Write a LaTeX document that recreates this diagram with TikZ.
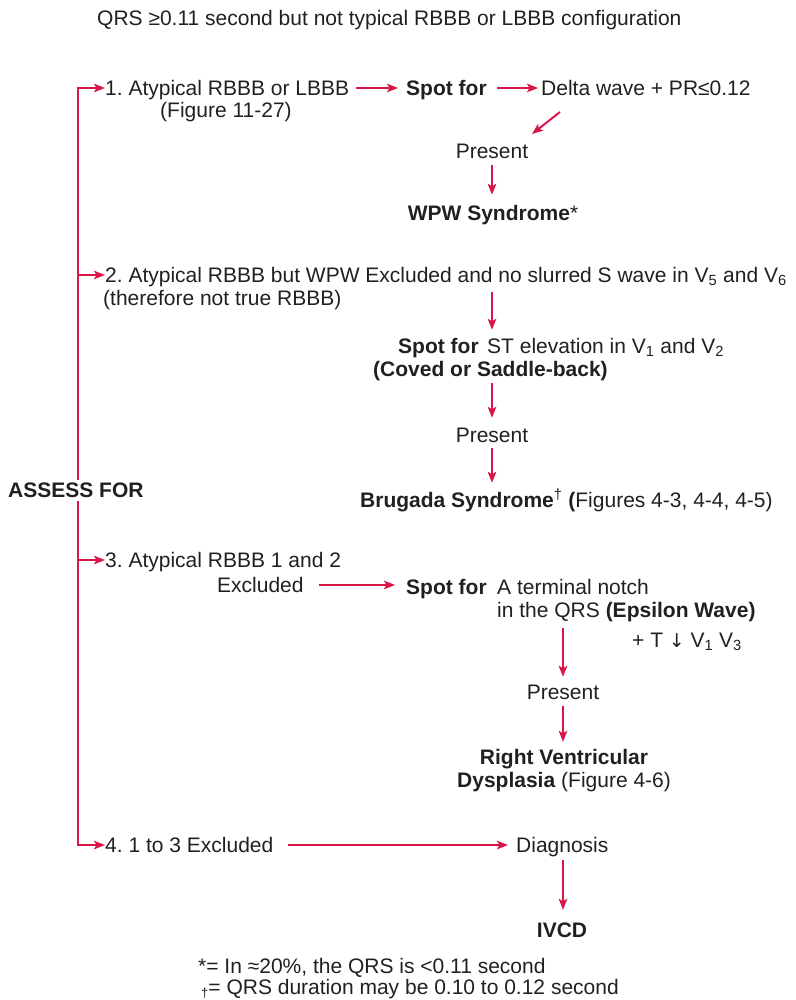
\documentclass[tikz,border=0pt]{standalone}
\usepackage{fontspec}
\setmainfont{Liberation Sans}
\newfontfamily\symfont{DejaVu Sans}
\usetikzlibrary{arrows.meta}
\definecolor{crim}{RGB}{218,22,72}
\definecolor{ink}{RGB}{35,31,32}
\frenchspacing
\begin{document}
\begin{tikzpicture}[x=1pt,y=-1pt,
  txt/.style={inner sep=0pt,text height=15pt,text depth=0pt,text=ink,font=\fontsize{21}{23}\selectfont},
  arr/.style={draw=crim,line width=2pt,-{Stealth[length=11pt,width=8.5pt,inset=2.5pt]}},
  spine/.style={draw=crim,line width=2pt}]
\useasboundingbox (0,0) rectangle (795,1000);
% texts
\node[txt,anchor=west] (title) at (97,18) {QRS ≥0.11 second but not typical RBBB or LBBB configuration};
\node[txt,anchor=west] (a1) at (105,88) {1. Atypical RBBB or LBBB};
\node[txt,anchor=west] (a1b) at (160,110) {(Figure 11-27)};
\node[txt,anchor=west] (s1) at (406,88) {\bfseries Spot for};
\node[txt,anchor=west] (d1) at (541,88) {Delta wave + PR≤0.12};
\node[txt] (p1) at (492,151) {Present};
\node[txt] (w1) at (493,213) {\textbf{WPW Syndrome}*};
\node[txt,anchor=west] (a2) at (105,275) {2. Atypical RBBB but WPW Excluded and no slurred S wave in V\textsubscript{5} and V\textsubscript{6}};
\node[txt,anchor=west] (a2b) at (103,298) {(therefore not true RBBB)};
\node[txt,anchor=west] (s2) at (398,346) {\bfseries Spot for};
\node[txt,anchor=west] (st2) at (487,346) {ST elevation in V\textsubscript{1} and V\textsubscript{2}};
\node[txt,anchor=west] (cv2) at (373,369) {\bfseries (Coved or Saddle-back)};
\node[txt] (p2) at (492,435) {Present};
\node[txt,anchor=west] (b2) at (360,500) {\textbf{Brugada Syndrome}\textsuperscript{†} \textbf{(}Figures 4-3, 4-4, 4-5)};
\node[txt,anchor=west] (a3) at (105,560) {3. Atypical RBBB 1 and 2};
\node[txt,anchor=west] (a3b) at (217,585) {Excluded};
\node[txt,anchor=west] (s3) at (406,587) {\bfseries Spot for};
\node[txt,anchor=west] (t3) at (497,587) {A terminal notch};
\node[txt,anchor=west] (t3b) at (497,610) {in the QRS \textbf{(Epsilon Wave)}};
\node[txt,anchor=west] (t3c) at (632,640) {+ T {\symfont\fontsize{19}{20}\selectfont ↓} V\textsubscript{1} V\textsubscript{3}};
\node[txt] (p3) at (563,692) {Present};
\node[txt] (r3) at (564,757) {\bfseries Right Ventricular};
\node[txt,anchor=west] (r3b) at (457,780) {\textbf{Dysplasia} (Figure 4-6)};
\node[txt,anchor=west] (a4) at (105,845) {4. 1 to 3 Excluded};
\node[txt,anchor=west] (dg) at (516,845) {Diagnosis};
\node[txt] (iv) at (562,930) {\bfseries IVCD};
\node[txt,anchor=west] (f1) at (198,966) {*= In ≈20\%, the QRS is <0.11 second};
\node[txt,anchor=west] (f2) at (201,987) {\raisebox{-3pt}{\fontsize{13}{13}\selectfont †}= QRS duration may be 0.10 to 0.12 second};
% spine
\coordinate (top) at (78,88);
\coordinate (c2) at (78,275);
\coordinate (c3) at (78,560);
\coordinate (bot) at (78,845);
\draw[spine,line cap=rect] (top) -- (bot);
\node[txt,anchor=west,fill=white,inner ysep=3pt] (assess) at (8,490) {\bfseries ASSESS FOR};
\draw[arr] (top) -- (a1.west);
\draw[arr] (c2) -- (a2.west);
\draw[arr] (c3) -- (a3.west);
\draw[arr] (bot) -- (a4.west);
% row 1
\draw[arr,shorten <=7pt,shorten >=8pt] (a1.east) -- (s1.west);
\draw[arr,shorten <=10pt,shorten >=3pt] (s1.east) -- (d1.west);
\coordinate (dgA) at (560,112);
\coordinate (dgB) at (532,134);
\draw[arr] (dgA) -- (dgB);
\draw[arr,shorten <=6.5pt,shorten >=10.5pt] (p1.south -| 492,0) -- (w1.north -| 492,0);
% row 2
\draw[arr,shorten <=9.5pt,shorten >=8.5pt] (a2.south -| p2.center) -- (s2.north -| p2.center);
\draw[arr,shorten <=6.5pt,shorten >=9.5pt] (cv2.south -| p2.center) -- (p2.north);
\draw[arr,shorten <=5.5pt,shorten >=9.5pt] (p2.south) -- (b2.north -| p2.center);
% row 3
\draw[arr,shorten <=15pt,shorten >=11pt] (a3b.east) -- (a3b.east -| s3.west);
\draw[arr,shorten <=10.5pt,shorten >=7.5pt] (t3b.south -| p3.center) -- (p3.north);
\draw[arr,shorten <=6.5pt,shorten >=7.5pt] (p3.south) -- (r3.north -| p3.center);
% row 4
\draw[arr,shorten <=14pt,shorten >=8pt] (a4.east) -- (dg.west);
\draw[arr,shorten <=7.5pt,shorten >=12.5pt] (dg.south -| p3.center) -- (iv.north -| p3.center);
\end{tikzpicture}
\end{document}
